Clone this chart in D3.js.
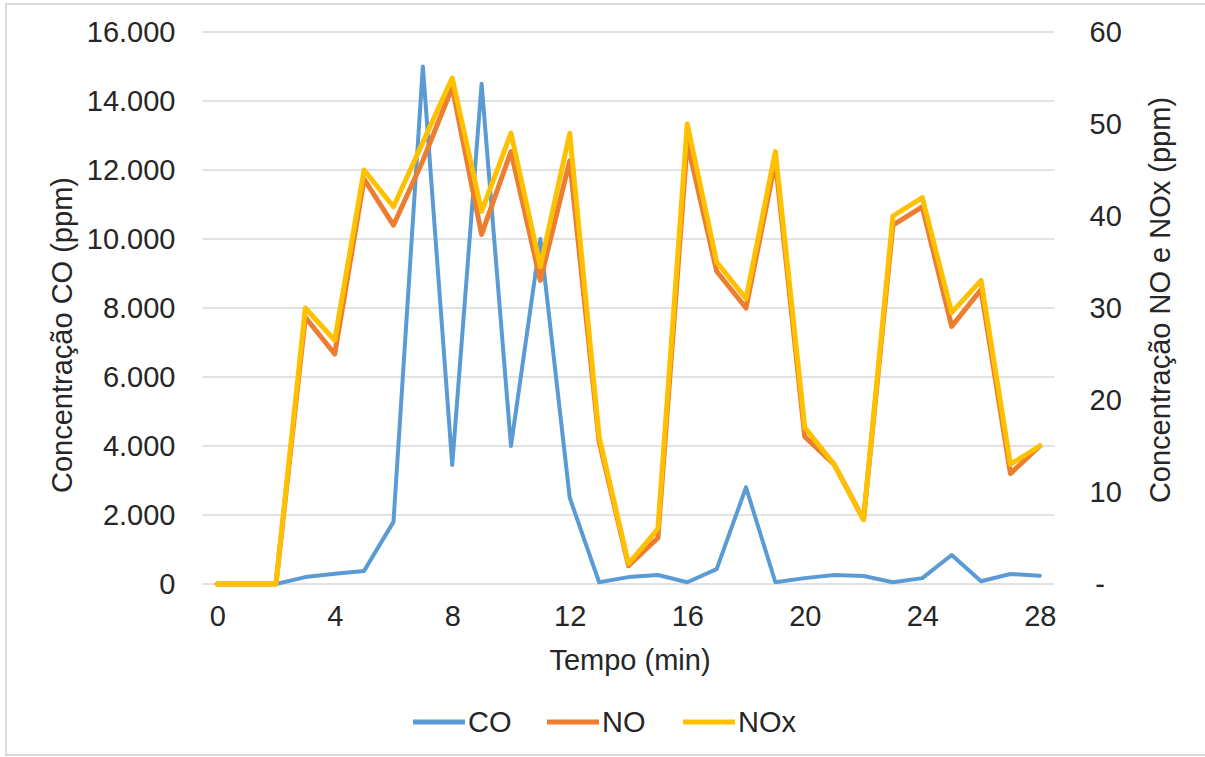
<!DOCTYPE html>
<html>
<head>
<meta charset="utf-8">
<script src="https://cdn.jsdelivr.net/npm/d3@7"></script>
<style>
  html, body { margin: 0; padding: 0; background: #ffffff; }
  svg { display: block; }
  text { font-family: "Liberation Sans", Arial, sans-serif; fill: #262626; }
</style>
</head>
<body>
<svg id="chart" width="1205" height="757"></svg>
<script>
// Time in minutes
const minutes = [0,1,2,3,4,5,6,7,8,9,10,11,12,13,14,15,16,17,18,19,20,21,22,23,24,25,26,27,28];
// CO concentration (ppm), left axis
const coValues = [0,0,0,200,300,380,1800,15000,3450,14500,4000,10000,2500,50,200,260,50,430,2800,50,170,260,230,50,170,840,80,290,240];
// NO concentration (ppm), right axis
const noValues = [0,0,0,29,25,44,39,46,54,38,47,33,46,15.5,2,5,48,34,30,46,16,13,7,39,41,28,32,12,15];
// NOx concentration (ppm), right axis
const noxValues = [0,0,0,30,26.5,45,41,48,55,40.5,49,34.5,49,16,2.2,6,50,35,31,47,17,13,7,40,42,29.5,33,13,15];

// Axis ticks
const xTicks = [0,4,8,12,16,20,24,28];
const leftTicks = [0,2000,4000,6000,8000,10000,12000,14000,16000];
const rightTicks = [0,10,20,30,40,50,60];

const seriesNames = ["CO", "NO", "NOx"];
const seriesColors = ["#5b9bd5", "#ed7d31", "#ffc000"];

const svg = d3.select("#chart");
const W = 1205, H = 757;

// outer chart frame (open on the right edge)
svg.append("rect")
  .attr("x", 6).attr("y", 4)
  .attr("width", W + 10).attr("height", H - 6)
  .attr("fill", "#ffffff")
  .attr("stroke", "#d9d9d9").attr("stroke-width", 2);

const plot = { left: 202.5, right: 1054.5, top: 32, bottom: 584 };

const x = d3.scaleLinear().domain([-0.5, 28.5]).range([plot.left, plot.right]);
const yL = d3.scaleLinear().domain([0, 16000]).range([plot.bottom, plot.top]);
const yR = d3.scaleLinear().domain([0, 60]).range([plot.bottom, plot.top]);

const ptLocale = d3.formatLocale({ decimal: ",", thousands: ".", grouping: [3], currency: ["R$", ""] });
const fmtL = ptLocale.format(",.0f");

// horizontal gridlines
svg.append("g")
  .selectAll("line")
  .data(leftTicks)
  .join("line")
  .attr("x1", plot.left).attr("x2", plot.right)
  .attr("y1", d => yL(d)).attr("y2", d => yL(d))
  .attr("stroke", "#d9d9d9").attr("stroke-width", 1.5);

const fontSize = 29;

function styleTicks(g) {
  g.select(".domain").remove();
  g.selectAll("text")
    .style("font-size", fontSize + "px")
    .attr("font-family", null)
    .attr("fill", "#262626");
}

// left axis
const gL = svg.append("g")
  .attr("transform", `translate(${plot.left - 27},0)`)
  .call(d3.axisLeft(yL).tickValues(leftTicks).tickFormat(fmtL).tickSize(0).tickPadding(0));
styleTicks(gL);

// right axis
const gR = svg.append("g")
  .attr("transform", `translate(${plot.right + 35},0)`)
  .call(d3.axisRight(yR).tickValues(rightTicks).tickFormat(d => d === 0 ? "-" : d3.format("d")(d)).tickSize(0).tickPadding(0));
styleTicks(gR);
gR.selectAll(".tick").filter(d => d === 0).select("text").attr("dx", "0.2em");

// bottom axis
const gX = svg.append("g")
  .attr("transform", `translate(0,${plot.bottom + 21})`)
  .call(d3.axisBottom(x).tickValues(xTicks).tickFormat(d3.format("d")).tickSize(0).tickPadding(0));
styleTicks(gX);

// axis titles
svg.append("text")
  .attr("x", 630).attr("y", 670)
  .attr("text-anchor", "middle")
  .style("font-size", fontSize + "px")
  .text("Tempo (min)");

svg.append("text")
  .attr("transform", "translate(72,335) rotate(-90)")
  .attr("text-anchor", "middle")
  .style("font-size", fontSize + "px")
  .text("Concentração CO (ppm)");

svg.append("text")
  .attr("transform", "translate(1170,300) rotate(-90)")
  .attr("text-anchor", "middle")
  .style("font-size", fontSize + "px")
  .text("Concentração NO e NOx (ppm)");

// series lines: CO on the left axis, NO and NOx on the right axis
const series = [
  { name: "CO", values: coValues, y: yL, color: seriesColors[0], width: 4 },
  { name: "NO", values: noValues, y: yR, color: seriesColors[1], width: 5 },
  { name: "NOx", values: noxValues, y: yR, color: seriesColors[2], width: 5 }
];

series.forEach(s => {
  const line = d3.line()
    .x((d, i) => x(minutes[i]))
    .y(d => s.y(d));
  svg.append("path")
    .datum(s.values)
    .attr("fill", "none")
    .attr("stroke", s.color)
    .attr("stroke-width", s.width)
    .attr("stroke-linejoin", "round")
    .attr("stroke-linecap", "round")
    .attr("d", line);
});

// legend
const legendItems = [
  { name: seriesNames[0], color: seriesColors[0], x: 413 },
  { name: seriesNames[1], color: seriesColors[1], x: 547 },
  { name: seriesNames[2], color: seriesColors[2], x: 683 }
];
const lg = svg.append("g");
legendItems.forEach(it => {
  lg.append("line")
    .attr("x1", it.x).attr("x2", it.x + 52)
    .attr("y1", 722).attr("y2", 722)
    .attr("stroke", it.color).attr("stroke-width", 5);
  lg.append("text")
    .attr("x", it.x + 55).attr("y", 732)
    .style("font-size", fontSize + "px")
    .text(it.name);
});
</script>
</body>
</html>
